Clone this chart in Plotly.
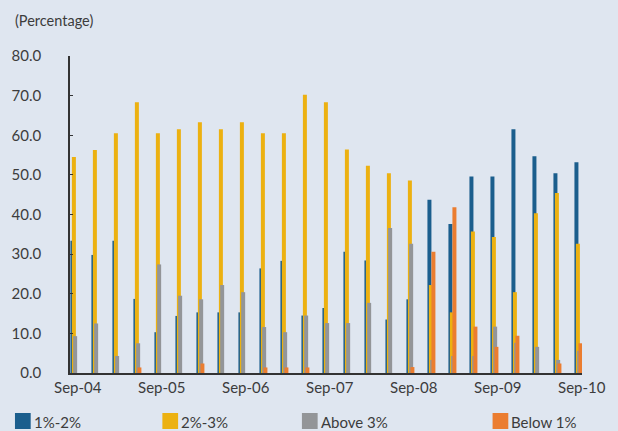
import plotly.graph_objects as go

quarters = [
    "Sep-04", "Dec-04", "Mar-05", "Jun-05", "Sep-05", "Dec-05", "Mar-06", "Jun-06",
    "Sep-06", "Dec-06", "Mar-07", "Jun-07", "Sep-07", "Dec-07", "Mar-08", "Jun-08",
    "Sep-08", "Dec-08", "Mar-09", "Jun-09", "Sep-09", "Dec-09", "Mar-10", "Jun-10",
    "Sep-10",
]
pct_1_2 = [33.4, 29.8, 33.4, 18.7, 10.3, 14.4, 15.3, 15.3, 15.3, 26.4, 28.3, 14.5,
           16.4, 30.6, 28.4, 13.5, 18.6, 43.7, 37.6, 49.6, 49.6, 61.5, 54.7, 50.4, 53.2]
pct_2_3 = [54.5, 56.3, 60.5, 68.3, 60.5, 61.5, 63.3, 61.5, 63.3, 60.5, 60.5, 70.2,
           68.3, 56.4, 52.3, 50.4, 48.6, 22.2, 15.3, 35.7, 34.3, 20.4, 40.3, 45.4, 32.6]
above_3 = [9.3, 12.5, 4.3, 7.5, 27.4, 19.5, 18.6, 22.2, 20.4, 11.6, 10.3, 14.5,
           12.6, 12.6, 17.7, 36.6, 32.6, 3.3, 4.3, 4.3, 11.7, 7.6, 6.6, 3.3, 5.6]
below_1 = [0.0, 0.0, 0.0, 1.4, 0.0, 0.0, 2.4, 0.0, 0.0, 1.4, 1.4, 1.4,
           0.0, 0.0, 0.0, 0.0, 1.5, 30.6, 41.8, 11.7, 6.6, 9.4, 0.0, 2.4, 7.5]

series = [
    ("1%-2%", pct_1_2, "#1b5e8d", 0.0),
    ("2%-3%", pct_2_3, "#ecb111", 0.07),
    ("Above 3%", above_3, "#939598", 0.13),
    ("Below 1%", below_1, "#eb7d30", 0.19),
]

idx = list(range(len(quarters)))
font = "Lato, 'Open Sans', sans-serif"
txt = "#3c3c3c"

fig = go.Figure()
for name, vals, color, off in series:
    fig.add_trace(go.Bar(x=idx, y=vals, name=name, marker_color=color,
                         marker_line_width=0, offset=off, width=0.19))

# legend drawn by hand: large squares, text close to them
leg_x = [14, 164, 306, 500]
plot_l, plot_w, plot_t, plot_h = 70, 521, 56, 317
for (name, vals, color, off), px in zip(series, leg_x):
    x0 = (px - plot_l) / plot_w
    x1 = (px + 16 - plot_l) / plot_w
    fig.add_shape(type="rect", xref="paper", yref="paper",
                  x0=x0, x1=x1, y0=-(413 - 373) / plot_h, y1=-(429 - 373) / plot_h,
                  fillcolor=color, line_width=0)
    fig.add_annotation(text=name, xref="paper", yref="paper",
                       x=(px + 17 - plot_l) / plot_w, y=-(422 - 373) / plot_h,
                       xanchor="left", yanchor="middle", showarrow=False,
                       font=dict(size=15, color=txt, family=font))

fig.add_annotation(text="(Percentage)", xref="paper", yref="paper",
                   x=(12 - plot_l) / plot_w, y=1 + (plot_t - 20) / plot_h,
                   xanchor="left", yanchor="middle", showarrow=False,
                   font=dict(size=14.5, color=txt, family=font))

fig.update_layout(
    width=618, height=431,
    margin=dict(l=70, r=27, t=56, b=58),
    barmode="overlay",
    showlegend=False,
    paper_bgcolor="#dfe6f0",
    plot_bgcolor="#dfe6f0",
    font=dict(family=font, size=15, color=txt),
    xaxis=dict(
        range=[-0.02, 24.36],
        tickvals=[i + 0.35 for i in idx[::4]],
        ticktext=quarters[::4],
        showline=True, linecolor="#333333", linewidth=1.5,
        showgrid=False, zeroline=False, ticks="",
        tickfont=dict(size=15, color=txt),
    ),
    yaxis=dict(
        range=[0, 80], dtick=10, tickformat=".1f",
        showline=True, linecolor="#333333", linewidth=1.5,
        showgrid=False, zeroline=False,
        ticks="inside", ticklen=3, tickcolor="#333333",
        ticklabelstandoff=24,
        tickfont=dict(size=15, color=txt),
    ),
)

fig.write_html("out.html", config={"displayModeBar": False},
               post_script="document.body.style.margin='0px';")
